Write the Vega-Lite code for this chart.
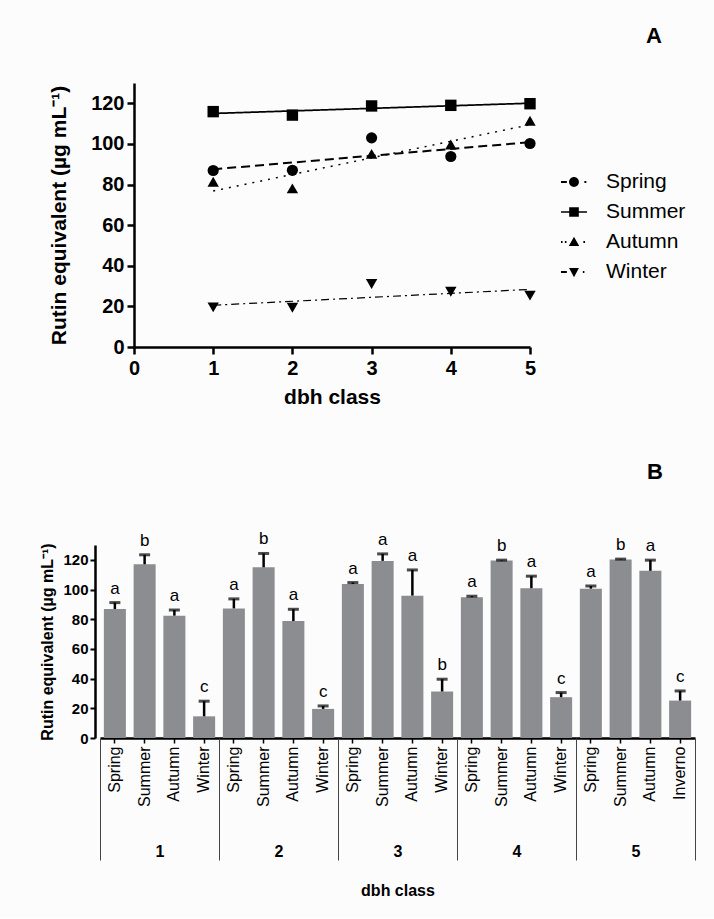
{
  "$schema": "https://vega.github.io/schema/vega-lite/v6.json",
  "background": "#fcfcfc",
  "padding": {"left": 39, "top": 25, "right": 20, "bottom": 19},
  "config": {
    "font": "Liberation Sans",
    "view": {"stroke": null},
    "axis": {"grid": false, "domainColor": "black", "tickColor": "black", "labelColor": "black", "titleColor": "black"}
  },
  "bounds": "flush",
  "spacing": 198,
  "datasets": {
    "a": [
      {"dbh": 1, "season": "Spring", "value": 86.9},
      {"dbh": 2, "season": "Spring", "value": 87.0},
      {"dbh": 3, "season": "Spring", "value": 103.0},
      {"dbh": 4, "season": "Spring", "value": 93.8},
      {"dbh": 5, "season": "Spring", "value": 100.2},
      {"dbh": 1, "season": "Summer", "value": 115.9},
      {"dbh": 2, "season": "Summer", "value": 114.2},
      {"dbh": 3, "season": "Summer", "value": 118.7},
      {"dbh": 4, "season": "Summer", "value": 119.0},
      {"dbh": 5, "season": "Summer", "value": 119.8},
      {"dbh": 1, "season": "Autumn", "value": 81.4},
      {"dbh": 2, "season": "Autumn", "value": 78.1},
      {"dbh": 3, "season": "Autumn", "value": 95.1},
      {"dbh": 4, "season": "Autumn", "value": 99.7},
      {"dbh": 5, "season": "Autumn", "value": 111.4},
      {"dbh": 1, "season": "Winter", "value": 19.5},
      {"dbh": 2, "season": "Winter", "value": 19.3},
      {"dbh": 3, "season": "Winter", "value": 31.0},
      {"dbh": 4, "season": "Winter", "value": 27.2},
      {"dbh": 5, "season": "Winter", "value": 25.3}
    ],
    "b": [
      {"dbh": "1", "id": "1-Spring", "mean": 86.9, "err": 91.2, "sig": "a"},
      {"dbh": "1", "id": "1-Summer", "mean": 117.0, "err": 123.4, "sig": "b"},
      {"dbh": "1", "id": "1-Autumn", "mean": 82.4, "err": 86.2, "sig": "a"},
      {"dbh": "1", "id": "1-Winter", "mean": 14.6, "err": 24.8, "sig": "c"},
      {"dbh": "2", "id": "2-Spring", "mean": 87.3, "err": 93.7, "sig": "a"},
      {"dbh": "2", "id": "2-Summer", "mean": 115.0, "err": 124.3, "sig": "b"},
      {"dbh": "2", "id": "2-Autumn", "mean": 78.8, "err": 86.7, "sig": "a"},
      {"dbh": "2", "id": "2-Winter", "mean": 19.6, "err": 21.6, "sig": "c"},
      {"dbh": "3", "id": "3-Spring", "mean": 103.8, "err": 104.7, "sig": "a"},
      {"dbh": "3", "id": "3-Summer", "mean": 119.3, "err": 124.0, "sig": "a"},
      {"dbh": "3", "id": "3-Autumn", "mean": 95.9, "err": 113.2, "sig": "a"},
      {"dbh": "3", "id": "3-Winter", "mean": 31.3, "err": 39.6, "sig": "b"},
      {"dbh": "4", "id": "4-Spring", "mean": 94.8, "err": 95.5, "sig": "a"},
      {"dbh": "4", "id": "4-Summer", "mean": 119.5, "err": 119.8, "sig": "b"},
      {"dbh": "4", "id": "4-Autumn", "mean": 100.9, "err": 109.0, "sig": "a"},
      {"dbh": "4", "id": "4-Winter", "mean": 27.5, "err": 30.6, "sig": "c"},
      {"dbh": "5", "id": "5-Spring", "mean": 100.6, "err": 102.4, "sig": "a"},
      {"dbh": "5", "id": "5-Summer", "mean": 120.2, "err": 120.5, "sig": "b"},
      {"dbh": "5", "id": "5-Autumn", "mean": 112.6, "err": 119.8, "sig": "a"},
      {"dbh": "5", "id": "5-Inverno", "mean": 25.2, "err": 31.7, "sig": "c"}
    ]
  },
  "vconcat": [
    {
      "width": 435,
      "height": 264,
      "title": {"text": "A", "anchor": "end", "frame": "group", "fontSize": 22, "fontWeight": "bold", "color": "black", "dx": 132, "offset": 35},
      "data": {"name": "a"},
      "encoding": {
        "x": {"field": "dbh", "type": "quantitative", "scale": {"domain": [0, 5], "range": [39, 435], "nice": false, "zero": false},
          "axis": {"values": [0, 1, 2, 3, 4, 5], "format": "d", "tickSize": 7, "tickWidth": 2.5, "domainWidth": 2.5, "labelFontSize": 20, "labelFontWeight": "bold", "labelPadding": 4, "labelFlush": false, "title": "dbh class", "titleFontSize": 21, "titleFontWeight": "bold", "titlePadding": 8}},
        "y": {"field": "value", "type": "quantitative", "scale": {"domain": [0, 130], "nice": false},
          "axis": {"values": [0, 20, 40, 60, 80, 100, 120], "offset": -39, "tickSize": 7, "tickWidth": 2.5, "domainWidth": 2.5, "labelFontSize": 20, "labelFontWeight": "bold", "labelPadding": 3, "labelOverlap": false, "title": "Rutin equivalent (µg mL⁻¹)", "titleFontSize": 21, "titleFontWeight": "bold", "titlePadding": 21}}
      },
      "layer": [
        {
          "transform": [{"filter": "false"}],
          "mark": {"type": "point", "filled": true, "color": "black", "size": 676, "opacity": 1},
          "encoding": {
            "shape": {"field": "season", "type": "nominal",
              "scale": {"domain": ["Spring", "Summer", "Autumn", "Winter"],
                "range": [
                  "M-1,-0.07L-0.55,-0.07L-0.55,0.07L-1,0.07ZM-0.38,0A0.38,0.38,0,1,1,0.38,0A0.38,0.38,0,1,1,-0.38,0ZM0.8,-0.07L0.95,-0.07L0.95,0.07L0.8,0.07Z",
                  "M-1,-0.05L1,-0.05L1,0.05L-1,0.05ZM-0.37,-0.37L0.37,-0.37L0.37,0.37L-0.37,0.37Z",
                  "M-1,-0.07L-0.88,-0.07L-0.88,0.07L-1,0.07ZM-0.7,-0.07L-0.58,-0.07L-0.58,0.07L-0.7,0.07ZM0,-0.4L0.4,0.3L-0.4,0.3ZM0.72,-0.07L0.85,-0.07L0.85,0.07L0.72,0.07Z",
                  "M-1,-0.07L-0.55,-0.07L-0.55,0.07L-1,0.07ZM0,0.4L0.38,-0.3L-0.38,-0.3ZM0.68,-0.07L0.8,-0.07L0.8,0.07L0.68,0.07Z"
                ]},
              "legend": {"orient": "none", "legendX": 465, "legendY": 85, "title": null, "labelFontSize": 21, "labelColor": "black", "labelOffset": 18, "symbolSize": 676, "symbolFillColor": "black", "rowPadding": 6, "padding": 0}
            }
          }
        },
        {
          "transform": [{"regression": "value", "on": "dbh", "groupby": ["season"], "extent": [1, 5]}],
          "mark": {"type": "line", "color": "black"},
          "encoding": {
            "strokeDash": {"field": "season", "type": "nominal", "scale": {"domain": ["Spring", "Summer", "Autumn", "Winter"], "range": [[9, 5], [1, 0], [2, 6], [8, 4, 2, 4]]}, "legend": null},
            "strokeWidth": {"field": "season", "type": "nominal", "scale": {"domain": ["Spring", "Summer", "Autumn", "Winter"], "range": [2, 1.2, 2, 2]}, "legend": null}
          }
        },
        {
          "transform": [{"filter": "datum.season == 'Spring'"}],
          "mark": {"type": "point", "filled": true, "color": "black", "size": 125, "opacity": 1, "shape": "circle"}
        },
        {
          "transform": [{"filter": "datum.season == 'Summer'"}],
          "mark": {"type": "point", "filled": true, "color": "black", "size": 130, "opacity": 1, "shape": "square"}
        },
        {
          "transform": [{"filter": "datum.season == 'Autumn'"}],
          "mark": {"type": "point", "filled": true, "color": "black", "size": 130, "opacity": 1, "shape": "triangle-up"}
        },
        {
          "transform": [{"filter": "datum.season == 'Winter'"}],
          "mark": {"type": "point", "filled": true, "color": "black", "size": 130, "opacity": 1, "shape": "triangle-down"}
        }
      ]
    },
    {
      "width": 600,
      "height": 193,
      "title": {"text": "B", "anchor": "end", "frame": "group", "fontSize": 22, "fontWeight": "bold", "color": "black", "dx": -32, "offset": 46},
      "data": {"name": "b"},
      "layer": [
        {
          "layer": [
            {
              "mark": {"type": "bar", "color": "#8b8d90", "width": {"band": 0.74}},
              "encoding": {
                "x": {"field": "id", "type": "nominal", "sort": null, "scale": {"paddingInner": 0, "paddingOuter": 0, "range": [5, 600]},
                  "axis": {"orient": "bottom", "title": null, "labelExpr": "split(datum.value, '-')[1]", "labelAngle": 270, "labelAlign": "right", "labelBaseline": "middle", "labelFontSize": 16, "labelPadding": 3, "tickSize": 5, "tickWidth": 1.5, "domainWidth": 2.5}},
                "y": {"field": "mean", "type": "quantitative", "scale": {"domain": [0, 130], "nice": false},
                  "axis": {"values": [0, 20, 40, 60, 80, 100, 120], "tickCount": 7, "labelOverlap": false, "tickSize": 5, "tickWidth": 2, "domainWidth": 2.5, "labelFontSize": 15, "labelFontWeight": "bold", "labelPadding": 2, "title": "Rutin equivalent (µg mL⁻¹)", "titleFontSize": 16, "titleFontWeight": "bold", "titlePadding": 7}}
              }
            },
            {
              "mark": {"type": "rule", "color": "black", "strokeWidth": 2.5},
              "encoding": {
                "x": {"field": "id", "type": "nominal", "sort": null},
                "y": {"field": "mean", "type": "quantitative"},
                "y2": {"field": "err"}
              }
            },
            {
              "mark": {"type": "tick", "color": "black", "thickness": 3, "size": 11},
              "encoding": {
                "x": {"field": "id", "type": "nominal", "sort": null},
                "y": {"field": "err", "type": "quantitative"}
              }
            },
            {
              "mark": {"type": "text", "fontSize": 17, "dy": -9, "baseline": "alphabetic", "color": "black"},
              "encoding": {
                "x": {"field": "id", "type": "nominal", "sort": null},
                "y": {"field": "err", "type": "quantitative"},
                "text": {"field": "sig"}
              }
            }
          ]
        },
        {
          "mark": {"type": "point", "opacity": 0},
          "encoding": {
            "x": {"field": "dbh", "type": "nominal", "sort": null, "scale": {"type": "band", "paddingInner": 0, "paddingOuter": 0, "range": [5, 600]},
              "axis": {"orient": "bottom", "title": "dbh class", "domain": false, "tickBand": "extent", "tickSize": 122, "tickWidth": 1, "tickColor": "#444", "labelFontSize": 16, "labelFontWeight": "bold", "labelPadding": -17, "labelAngle": 0, "titleFontSize": 16, "titleFontWeight": "bold", "titlePadding": 22}}
          }
        }
      ],
      "resolve": {"scale": {"x": "independent"}, "axis": {"x": "independent"}}
    }
  ]
}
